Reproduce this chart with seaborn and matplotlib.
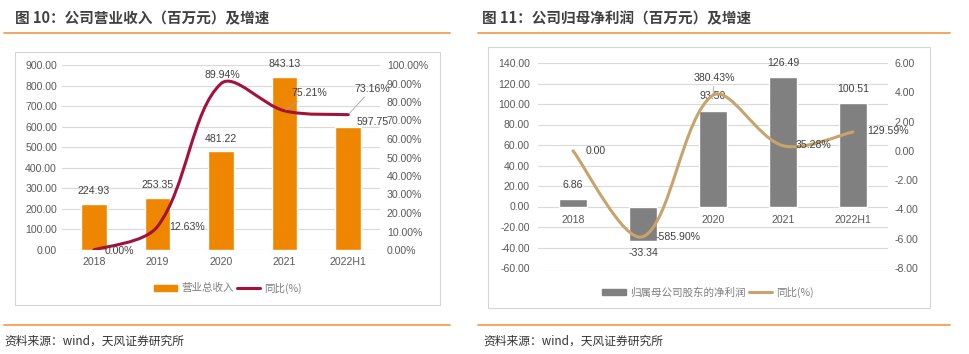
import numpy as np
import matplotlib
matplotlib.use("Agg")
import matplotlib.pyplot as plt
import seaborn as sns
from matplotlib.path import Path
from matplotlib.patches import PathPatch, Rectangle, Patch
from matplotlib.lines import Line2D
from matplotlib.ticker import FuncFormatter, MultipleLocator

# data
years = ['2018', '2019', '2020', '2021', '2022H1']
revenue = [224.93, 253.35, 481.22, 843.13, 597.75]
revenue_yoy = [0.0, 0.1263, 0.8994, 0.7521, 0.7316]
profit = [6.86, -33.34, 93.50, 126.49, 100.51]
profit_yoy = [0.0, -5.8590, 3.8043, 0.3528, 1.2959]

ORANGE = '#EE8600'
RED = '#A3123D'
GREY_BAR = '#808080'
GOLD = '#C8A46C'
TICK = '#595959'
LABEL = '#404040'
GRID = '#D9D9D9'

sns.set_style('white')
plt.rcParams['font.family'] = ['Liberation Sans', 'Noto Sans CJK SC', 'DejaVu Sans']
CJK = ['Noto Sans CJK SC', 'DejaVu Sans']

W, H = 970, 354
fig = plt.figure(figsize=(W / 100, H / 100), dpi=100)


def px_axes(x0, y0, x1, y1):
    # pixel box (top-left origin) -> figure axes
    return fig.add_axes([x0 / W, 1 - y1 / H, (x1 - x0) / W, (y1 - y0) / H])


def smooth_path(ax, xs, ys):
    # Excel-like smoothed line: bezier segments through the data points,
    # tangents split by on-screen segment length
    pts = np.column_stack([xs, ys]).astype(float)
    scr = ax.transData.transform(pts)
    n = len(pts)
    d = np.hypot(*np.diff(scr, axis=0).T)
    before, after = [None] * n, [None] * n
    for i in range(n):
        if i == 0:
            after[i] = pts[0] + (pts[1] - pts[0]) / 6
        elif i == n - 1:
            before[i] = pts[i] - (pts[i] - pts[i - 1]) / 6
        else:
            t = pts[i + 1] - pts[i - 1]
            w0 = d[i - 1] / (d[i - 1] + d[i])
            before[i] = pts[i] - t * w0 / 3
            after[i] = pts[i] + t * (1 - w0) / 3
    verts, codes = [pts[0]], [Path.MOVETO]
    for i in range(n - 1):
        verts += [after[i], before[i + 1], pts[i + 1]]
        codes += [Path.CURVE4] * 3
    return Path(verts, codes)


def style_axes(ax, ax2):
    for a in (ax, ax2):
        for s in a.spines.values():
            s.set_visible(False)
        a.tick_params(length=0, labelsize=7.6, labelcolor=TICK)
    ax.grid(axis='y', color=GRID, lw=0.8)
    ax.set_axisbelow(True)
    ax.set_xlabel('')
    ax.set_ylabel('')


def lbl(ax, x, y, text, dx, dy, ha='center', leader=False):
    kw = {}
    if leader:
        kw['arrowprops'] = dict(arrowstyle='-', color='#A6A6A6', lw=0.6, shrinkA=0, shrinkB=1)
    ax.annotate(text, (x, y), xytext=(dx, dy), textcoords='offset pixels',
                ha=ha, va='center', fontsize=7.6, color=LABEL, **kw)


# ---------------- left chart ----------------
ax = px_axes(62, 65, 380, 250)
sns.barplot(x=years, y=revenue, color=ORANGE, saturation=1, width=0.4, ax=ax)
ax.set_ylim(0, 900)
ax.set_xlim(-0.5, 4.5)
ax.yaxis.set_major_locator(MultipleLocator(100))
ax.yaxis.set_major_formatter(FuncFormatter(lambda v, p: f'{v:.2f}'))
ax2 = ax.twinx()
ax2.set_ylim(0, 1.0)
ax2.yaxis.set_major_locator(MultipleLocator(0.1))
ax2.yaxis.set_major_formatter(FuncFormatter(lambda v, p: f'{v:.2%}'))
style_axes(ax, ax2)
ax.tick_params(axis='x', pad=5)
ax.tick_params(axis='y', pad=3.6)
ax2.tick_params(axis='y', pad=5)
ax2.add_patch(PathPatch(smooth_path(ax2, range(len(years)), revenue_yoy), facecolor='none',
                        edgecolor=RED, lw=2.2, capstyle='round'))

bar_off = [(0, 13), (0, 13), (0, 12), (0, 13), (25, 5)]
for i, v in enumerate(revenue):
    lbl(ax, i, v, f'{v:.2f}', *bar_off[i])
line_off = [(11, -1, 'left', False), (12, 0, 'left', False), (1, 9, 'center', False),
            (25, 18, 'center', True), (24, 26, 'center', True)]
for i, v in enumerate(revenue_yoy):
    dx, dy, ha, ld = line_off[i]
    lbl(ax2, i, v, f'{v:.2%}', dx, dy, ha, ld)

fig.legend([Patch(color=ORANGE), Line2D([], [], color=RED, lw=2.2)], ['营业总收入', '同比(%)'],
           loc='center', bbox_to_anchor=(228 / W, 1 - 288 / H), ncol=2, frameon=False,
           prop={'family': CJK, 'size': 7.6}, labelcolor='#7F7F7F', handlelength=2.2,
           handleheight=0.5, handletextpad=0.4, columnspacing=0.3)

# ---------------- right chart ----------------
bx = px_axes(538, 63, 888, 268)
sns.barplot(x=years, y=profit, color=GREY_BAR, saturation=1, width=0.4, ax=bx)
bx.set_ylim(-60, 140)
bx.set_xlim(-0.5, 4.5)
bx.yaxis.set_major_locator(MultipleLocator(20))
bx.yaxis.set_major_formatter(FuncFormatter(lambda v, p: f'{v:.2f}'))
bx.spines['bottom'].set_position(('data', 0))
bx2 = bx.twinx()
bx2.set_ylim(-8, 6)
bx2.yaxis.set_major_locator(MultipleLocator(2))
bx2.yaxis.set_major_formatter(FuncFormatter(lambda v, p: f'{v:.2f}'))
style_axes(bx, bx2)
bx.tick_params(axis='x', pad=6)
bx.tick_params(axis='y', pad=5.8)
bx2.tick_params(axis='y', pad=5)
bx2.add_patch(PathPatch(smooth_path(bx2, range(len(years)), profit_yoy), facecolor='none',
                        edgecolor=GOLD, lw=2.2, capstyle='round'))

bar_off = [(0, 14), (0, -12), (0, 15), (0, 14), (0, 14.5)]
for i, v in enumerate(profit):
    lbl(bx, i, v, f'{v:.2f}', *bar_off[i])
profit_yoy_labels = ['0.00'] + [f'{v:.2%}' for v in profit_yoy[1:]]
line_off = [(13, 0, 'left', False), (13, 0, 'left', False), (1, 17, 'center', True),
            (13, 1, 'left', False), (14, 1, 'left', False)]
for i, v in enumerate(profit_yoy):
    dx, dy, ha, ld = line_off[i]
    lbl(bx2, i, v, profit_yoy_labels[i], dx, dy, ha, ld)

fig.legend([Patch(color=GREY_BAR), Line2D([], [], color=GOLD, lw=2.2)], ['归属母公司股东的净利润', '同比(%)'],
           loc='center', bbox_to_anchor=(708 / W, 1 - 292 / H), ncol=2, frameon=False,
           prop={'family': CJK, 'size': 7.6}, labelcolor='#7F7F7F', handlelength=2.2,
           handleheight=0.5, handletextpad=0.4, columnspacing=0.3)

# ---------------- frames, titles, footers ----------------
for x0, y0, x1, y1 in [(15, 52, 440, 305), (488, 47, 930, 308)]:
    fig.patches.append(Rectangle((x0 / W, 1 - y1 / H), (x1 - x0) / W, (y1 - y0) / H,
                                 transform=fig.transFigure, fill=False, ec='#D4D4D4', lw=0.8))
for x0, x1 in [(4, 450), (478, 950)]:
    for y in (33, 325):
        fig.add_artist(Line2D([x0 / W, x1 / W], [1 - y / H] * 2, transform=fig.transFigure,
                              color='#F5A662', lw=1.4))

fig.text(15 / W, 1 - 18 / H, '图 10：公司营业收入（百万元）及增速', family=CJK, weight='bold',
         fontsize=10.5, color='#404040', va='center')
fig.text(482 / W, 1 - 18 / H, '图 11：公司归母净利润（百万元）及增速', family=CJK, weight='bold',
         fontsize=10.5, color='#404040', va='center')
for x in (4, 483):
    fig.text(x / W, 1 - 341 / H, '资料来源：wind，天风证券研究所', family=CJK,
             fontsize=8.5, color='#333333', va='center')

fig.savefig('out.png', dpi=100)
